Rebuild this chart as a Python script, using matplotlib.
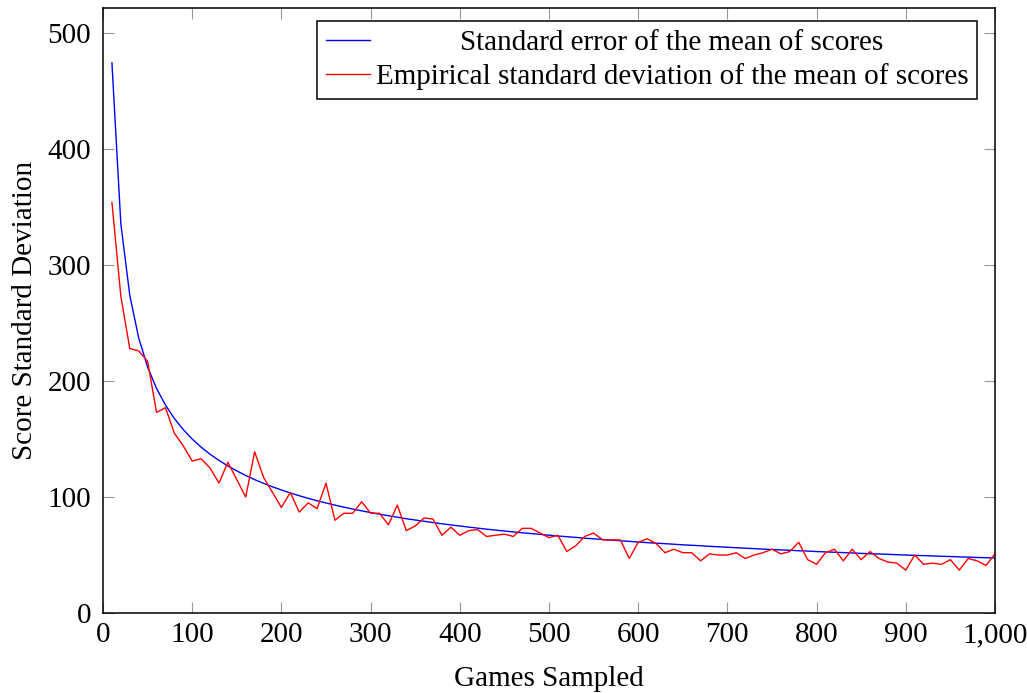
import numpy as np
import matplotlib
matplotlib.use("Agg")
import matplotlib.pyplot as plt
from matplotlib.ticker import FuncFormatter
from matplotlib.transforms import Affine2D

# games sampled (every 10 games up to 1000)
games = list(range(10, 1001, 10))

# standard error of the mean of scores
std_error = [
    474.3, 335.4, 273.9, 237.2, 212.1, 193.6, 179.3, 167.7, 158.1, 150.0,
    143.0, 136.9, 131.6, 126.8, 122.5, 118.6, 115.0, 111.8, 108.8, 106.1,
    103.5, 101.1, 98.9, 96.8, 94.9, 93.0, 91.3, 89.6, 88.1, 86.6,
    85.2, 83.9, 82.6, 81.3, 80.2, 79.1, 78.0, 76.9, 76.0, 75.0,
    74.1, 73.2, 72.3, 71.5, 70.7, 69.9, 69.2, 68.5, 67.8, 67.1,
    66.4, 65.8, 65.2, 64.5, 64.0, 63.4, 62.8, 62.3, 61.8, 61.2,
    60.7, 60.2, 59.8, 59.3, 58.8, 58.4, 58.0, 57.5, 57.1, 56.7,
    56.3, 55.9, 55.5, 55.1, 54.8, 54.4, 54.1, 53.7, 53.4, 53.0,
    52.7, 52.4, 52.1, 51.8, 51.4, 51.1, 50.9, 50.6, 50.3, 50.0,
    49.7, 49.5, 49.2, 48.9, 48.7, 48.4, 48.2, 47.9, 47.7, 47.4,
]

# empirical standard deviation of the mean of scores
emp_std = [
    354, 273, 228, 226, 217, 173, 177, 155, 144, 131,
    133, 125, 112, 130, 115, 100, 139, 117, 104, 91,
    104, 87, 95, 90, 112, 80, 86, 86, 96, 86,
    86, 76, 93, 71, 75, 82, 81, 67, 74, 67,
    71, 72, 66, 67, 68, 66, 73, 73, 69, 65,
    67, 53, 58, 66, 69, 63, 63, 63, 47, 61,
    64, 60, 52, 55, 52, 52, 45, 51, 50, 50,
    52, 47, 50, 52, 55, 51, 53, 61, 46, 42,
    52, 55, 45, 55, 46, 53, 47, 44, 43, 37,
    50, 42, 43, 42, 46, 37, 47, 45, 41, 51,
]

plt.rcParams['font.family'] = ['Liberation Serif', 'DejaVu Serif']
FS = 21

fig = plt.figure(figsize=(10.27, 6.93), dpi=100)
ax = fig.add_axes([0.1003, 0.1154, 0.8685, 0.8731])

ax.plot(games, std_error, color='blue', lw=1.0, label='Standard error of the mean of scores')
ax.plot(games, emp_std, color='red', lw=1.0, label='Empirical standard deviation of the mean of scores')

ax.set_xlim(0, 1000)
ax.set_ylim(0, 521.6)
ax.set_xticks(np.arange(0, 1001, 100))
ax.set_yticks(np.arange(0, 501, 100))
ax.xaxis.set_major_formatter(FuncFormatter(lambda v, p: f"{v:,.0f}"))

ax.tick_params(direction='in', length=7.7, width=0.8, color='#999999',
               top=True, right=True, labelsize=FS)
ax.tick_params(axis='y', pad=8.5)
ax.tick_params(axis='x', pad=6.5)
for s in ax.spines.values():
    s.set_linewidth(1.1)
    s.set_color('black')

ax.set_xlabel('Games Sampled', fontsize=FS, labelpad=13)
ax.set_ylabel('Score Standard Deviation', fontsize=FS, labelpad=7)

leg = ax.legend(loc='upper right', bbox_to_anchor=(0.98, 0.979), borderaxespad=0,
                fontsize=FS, fancybox=False, framealpha=1, edgecolor='black',
                handlelength=1.5, handletextpad=0.2, labelspacing=0.25,
                borderpad=0.3)
leg.get_frame().set_linewidth(1.1)

# center the shorter legend entry within the text column
fig.canvas.draw()
r = fig.canvas.get_renderer()
texts = leg.get_texts()
widths = [t.get_window_extent(r).width for t in texts]
wmax = max(widths)
for t, w in zip(texts, widths):
    t.set_transform(t.get_transform() + Affine2D().translate((wmax - w) / 2, 0))

fig.savefig('out.png', dpi=100)
